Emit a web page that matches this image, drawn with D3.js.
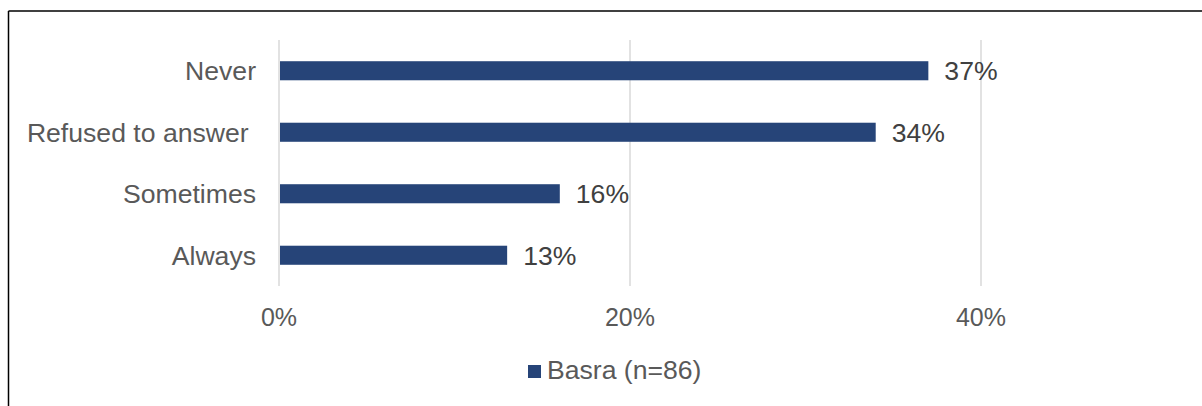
<!DOCTYPE html>
<html>
<head>
<meta charset="utf-8">
<script src="https://cdn.jsdelivr.net/npm/d3@7"></script>
<style>
  html, body { margin: 0; padding: 0; background: #fff; }
  svg { display: block; font-family: "Liberation Sans", Arial, sans-serif; }
</style>
</head>
<body>
<svg id="chart" width="1202" height="406"></svg>
<script>
// Response categories, top to bottom
const categories = ["Never", "Refused to answer ", "Sometimes", "Always"];
// Share of respondents per category (Basra)
const values = [0.37, 0.34, 0.16, 0.13];
// Axis ticks
const ticks = [0, 0.2, 0.4];
const tickLabels = ["0%", "20%", "40%"];
const seriesName = "Basra (n=86)";

const svg = d3.select("#chart");
const barColor = "#264478";
const fontSize = 26.6;

// Frame lines (top and left)
svg.append("line").attr("x1", 8.5).attr("x2", 1202).attr("y1", 11).attr("y2", 11)
  .attr("stroke", "#000").attr("stroke-width", 1.5);
svg.append("line").attr("x1", 8.5).attr("x2", 8.5).attr("y1", 11).attr("y2", 406)
  .attr("stroke", "#000").attr("stroke-width", 1.5);

const x = d3.scaleLinear().domain([0, 0.4]).range([279, 981]);
const y = d3.scaleBand().domain(categories).range([40, 286]).paddingInner(0.69).paddingOuter(0.345);

// Vertical gridlines
svg.append("g").selectAll("line").data(ticks).join("line")
  .attr("x1", d => x(d)).attr("x2", d => x(d))
  .attr("y1", 40).attr("y2", 286)
  .attr("stroke", "#d9d9d9").attr("stroke-width", 1.5);

// Bars
svg.append("g").selectAll("rect").data(values).join("rect")
  .attr("x", x(0) + 1)
  .attr("y", (d, i) => y(categories[i]))
  .attr("width", d => x(d) - x(0) - 1)
  .attr("height", y.bandwidth())
  .attr("fill", barColor);

// Value labels
svg.append("g").selectAll("text").data(values).join("text")
  .attr("x", d => x(d) + 16)
  .attr("y", (d, i) => y(categories[i]) + y.bandwidth() / 2)
  .attr("dy", "0.36em")
  .attr("font-size", fontSize)
  .attr("fill", "#404040")
  .text(d => Math.round(d * 100) + "%");

// Category labels
svg.append("g").selectAll("text").data(categories).join("text")
  .attr("x", 256)
  .attr("y", d => y(d) + y.bandwidth() / 2)
  .attr("dy", "0.36em")
  .attr("text-anchor", "end")
  .attr("font-size", fontSize)
  .attr("fill", "#595959")
  .style("white-space", "pre")
  .text(d => d);

// X axis tick labels
svg.append("g").selectAll("text").data(ticks).join("text")
  .attr("x", d => x(d))
  .attr("y", 326)
  .attr("text-anchor", "middle")
  .attr("font-size", 25)
  .attr("fill", "#595959")
  .text((d, i) => tickLabels[i]);

// Legend
const lg = svg.append("g");
lg.append("rect").attr("x", 528).attr("y", 365).attr("width", 13).attr("height", 13).attr("fill", barColor);
lg.append("text").attr("x", 547).attr("y", 379).attr("font-size", fontSize).attr("fill", "#595959").text(seriesName);
</script>
</body>
</html>
